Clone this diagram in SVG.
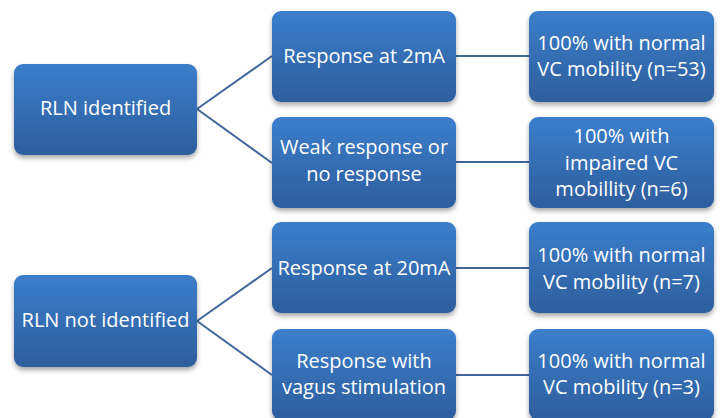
<svg xmlns="http://www.w3.org/2000/svg" width="722" height="418" viewBox="0 0 722 418">
<style>
.box{fill:url(#g);filter:url(#sh)}
.t{font-family:"Open Sans","Liberation Sans",sans-serif;font-size:20px;fill:#ffffff;text-anchor:middle}
.c{stroke:#41679a;stroke-width:2;fill:none}
</style>
<defs>
<linearGradient id="g" x1="0" y1="0" x2="0" y2="1">
<stop offset="0" stop-color="#3b7ecb"/>
<stop offset="1" stop-color="#2e5e9d"/>
</linearGradient>
<filter id="sh" x="-10%" y="-10%" width="120%" height="130%">
<feDropShadow dx="0" dy="3" stdDeviation="2.5" flood-color="#000" flood-opacity="0.35"/>
</filter>
</defs>
<rect width="722" height="418" fill="#ffffff"/>
<g id="connectors">
<path class="c" d="M197 109 L272 56 M197 109 L272 163 M456 56 L529 56 M456 162 L529 162 M197 321 L272 268 M197 321 L272 375 M456 268 L529 268 M456 375 L529 375"/>
</g>
<g id="n1"><rect class="box" x="14" y="64" width="183" height="91" rx="9"/><text class="t" x="105.5" y="115">RLN identified</text></g>
<g id="n2"><rect class="box" x="14" y="275" width="183" height="92" rx="9"/><text class="t" x="105.5" y="327">RLN not identified</text></g>
<g id="n3"><rect class="box" x="272" y="11" width="184" height="91" rx="9"/><text class="t" x="364" y="63">Response at 2mA</text></g>
<g id="n4"><rect class="box" x="272" y="117" width="184" height="91" rx="9"/><text class="t" x="364" y="154">Weak response or</text><text class="t" x="364" y="181">no response</text></g>
<g id="n5"><rect class="box" x="272" y="222" width="184" height="91" rx="9"/><text class="t" x="364" y="275">Response at 20mA</text></g>
<g id="n6"><rect class="box" x="272" y="329" width="184" height="91" rx="9"/><text class="t" x="364" y="368">Response with</text><text class="t" x="364" y="394">vagus stimulation</text></g>
<g id="n7"><rect class="box" x="529" y="11" width="185" height="91" rx="9"/><text class="t" x="621.5" y="50">100% with normal</text><text class="t" x="621.5" y="76">VC mobility (n=53)</text></g>
<g id="n8"><rect class="box" x="529" y="117" width="185" height="91" rx="9"/><text class="t" x="621.5" y="143">100% with</text><text class="t" x="621.5" y="170">impaired VC</text><text class="t" x="621.5" y="196">mobillity (n=6)</text></g>
<g id="n9"><rect class="box" x="529" y="222" width="185" height="91" rx="9"/><text class="t" x="621.5" y="262">100% with normal</text><text class="t" x="621.5" y="289">VC mobility (n=7)</text></g>
<g id="n10"><rect class="box" x="529" y="329" width="185" height="91" rx="9"/><text class="t" x="621.5" y="368">100% with normal</text><text class="t" x="621.5" y="394">VC mobility (n=3)</text></g>
</svg>
